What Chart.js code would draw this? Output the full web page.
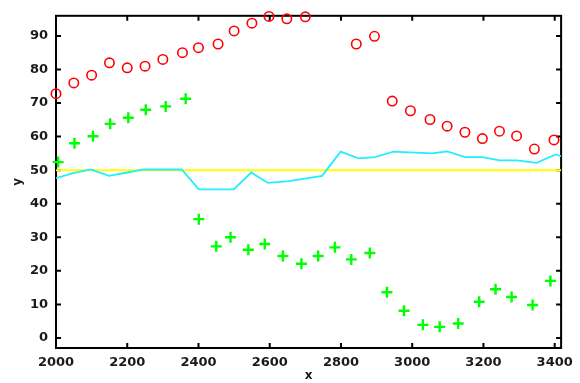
<!DOCTYPE html>
<html>
<head>
<meta charset="utf-8">
<script src="https://cdn.jsdelivr.net/npm/chart.js@4.4.1/dist/chart.umd.min.js"></script>
<style>
  html, body { margin: 0; padding: 0; background: #fff; }
  canvas { display: block; }
</style>
</head>
<body>
<canvas id="chartCanvas" width="580" height="383"></canvas>
<script>
// datos
const redX = [2000, 2050, 2100, 2150, 2200, 2250, 2300, 2355, 2400, 2455, 2500, 2550, 2598, 2648, 2700,
  2843, 2894, 2944, 2995, 3050, 3098, 3148, 3197, 3245, 3293, 3343, 3398];
const redY = [72.8, 76, 78.3, 82, 80.5, 81, 83, 85, 86.5, 87.6, 91.5, 93.8, 95.8, 95.1, 95.7,
  87.6, 89.9, 70.6, 67.7, 65.1, 63.1, 61.3, 59.4, 61.6, 60.2, 56.3, 59.0];

const greenX = [2006, 2052, 2104, 2152, 2203, 2252, 2308, 2364, 2401, 2450, 2490, 2540, 2586, 2637, 2689,
  2736, 2783, 2829, 2881, 2929, 2977, 3030, 3077, 3129, 3188, 3234, 3279, 3338, 3388];
const greenY = [52.4, 58, 60.1, 63.8, 65.6, 68, 69, 71.3, 35.4, 27.3, 30, 26.3, 28, 24.4, 22.1,
  24.4, 27, 23.4, 25.3, 13.6, 8.1, 3.9, 3.3, 4.3, 10.8, 14.5, 12.2, 9.8, 17];

const cyanX = [2000, 2048, 2098, 2149, 2200, 2247, 2353, 2401, 2499, 2548, 2595, 2654, 2747, 2799, 2849,
  2896, 2947, 3055, 3098, 3148, 3197, 3245, 3293, 3349, 3403, 3430];
const cyanY = [47.6, 49.1, 50.2, 48.3, 49.3, 50.2, 50.2, 44.3, 44.3, 49.3, 46.2, 46.7, 48.3, 55.5, 53.5,
  53.9, 55.5, 55.0, 55.6, 53.9, 53.9, 52.9, 52.9, 52.2, 54.7, 53.8];

const yellowX = [2000, 3430];
const yellowY = [50, 50];

const xTicks = [2000, 2200, 2400, 2600, 2800, 3000, 3200, 3400];
const yTicks = [0, 10, 20, 30, 40, 50, 60, 70, 80, 90];

function toPoints(xs, ys) {
  return xs.map((x, i) => ({ x: x, y: ys[i] }));
}

// marco negro con marcas hacia dentro
const frameTicks = {
  id: 'frameTicks',
  beforeDatasetsDraw(chart) {
    const { ctx, chartArea: a, scales: { x, y } } = chart;
    ctx.save();
    ctx.strokeStyle = '#000';
    ctx.lineWidth = 2;
    ctx.strokeRect(a.left, a.top, a.right - a.left, a.bottom - a.top);
    ctx.beginPath();
    x.ticks.forEach(t => {
      const px = x.getPixelForValue(t.value);
      ctx.moveTo(px, a.bottom); ctx.lineTo(px, a.bottom - 5);
      ctx.moveTo(px, a.top); ctx.lineTo(px, a.top + 5);
    });
    y.ticks.forEach(t => {
      const py = y.getPixelForValue(t.value);
      ctx.moveTo(a.left, py); ctx.lineTo(a.left + 5, py);
      ctx.moveTo(a.right, py); ctx.lineTo(a.right - 5, py);
    });
    ctx.stroke();
    ctx.restore();
  }
};

const tickFont = { family: 'DejaVu Sans', size: 13, weight: 'bold' };
const titleFont = { family: 'DejaVu Sans', size: 12, weight: 'bold' };

new Chart(document.getElementById('chartCanvas').getContext('2d'), {
  type: 'scatter',
  data: {
    datasets: [
      {
        data: toPoints(redX, redY),
        pointStyle: 'circle',
        pointRadius: 4.7,
        borderColor: '#ff0000',
        backgroundColor: 'rgba(0,0,0,0)',
        borderWidth: 1.6,
        clip: false,
        order: 0,
      },
      {
        data: toPoints(greenX, greenY),
        pointStyle: 'cross',
        pointRadius: 5.5,
        borderColor: '#00ff00',
        borderWidth: 2.4,
        clip: false,
        order: 1,
      },
      {
        data: toPoints(cyanX, cyanY),
        showLine: true,
        pointRadius: 0,
        borderColor: '#22eeff',
        borderWidth: 1.8,
        order: 2,
      },
      {
        data: toPoints(yellowX, yellowY),
        showLine: true,
        pointRadius: 0,
        borderColor: '#ffff00',
        borderWidth: 2,
        order: 3,
      },
    ],
  },
  options: {
    responsive: false,
    animation: false,
    devicePixelRatio: 1,
    layout: { padding: { top: 12, right: 17, left: 0, bottom: 0 } },
    scales: {
      x: {
        type: 'linear',
        min: 2000,
        max: 3418,
        afterBuildTicks: scale => { scale.ticks = xTicks.map(v => ({ value: v })); },
        afterFit: scale => { scale.height = 35; },
        grid: { display: false, drawTicks: false },
        border: { display: false },
        ticks: {
          font: tickFont, color: '#1a1a1a', padding: 7, maxRotation: 0,
          callback: v => String(v),
        },
        title: { display: true, text: 'x', font: titleFont, color: '#1a1a1a', padding: 0 },
      },
      y: {
        type: 'linear',
        min: -3,
        max: 96,
        afterBuildTicks: scale => { scale.ticks = yTicks.map(v => ({ value: v })); },
        afterFit: scale => { scale.width = 56; },
        grid: { display: false, drawTicks: false },
        border: { display: false },
        ticks: { font: tickFont, color: '#1a1a1a', padding: 8, callback: v => String(v) },
        title: { display: true, text: 'y', font: titleFont, color: '#1a1a1a', padding: { top: 11, bottom: 0 } },
      },
    },
    plugins: {
      legend: { display: false },
      tooltip: { enabled: false },
    },
  },
  plugins: [frameTicks],
});
</script>
</body>
</html>
